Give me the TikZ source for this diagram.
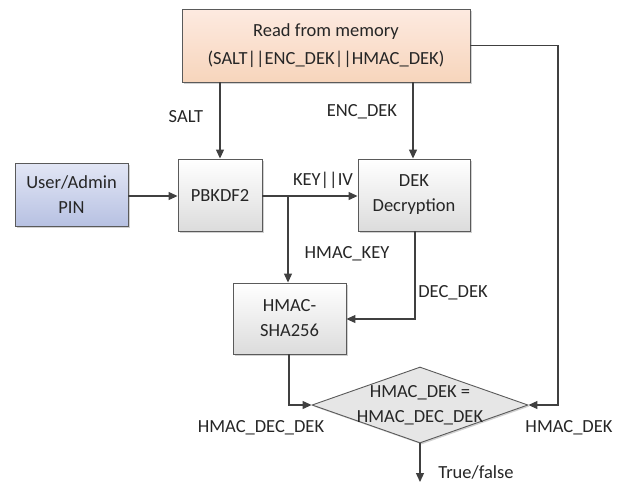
\documentclass[tikz,border=0pt]{standalone}
\usepackage{fontspec}
\setmainfont{Carlito}
\usetikzlibrary{shapes.geometric,arrows.meta,shadows}
\definecolor{linec}{HTML}{404040}
\definecolor{boxline}{HTML}{5A5A5A}
\definecolor{peachT}{HTML}{FDEAE0}
\definecolor{peachB}{HTML}{F7D5BC}
\definecolor{blueT}{HTML}{E2E6F5}
\definecolor{blueB}{HTML}{B7C1E2}
\definecolor{grayB}{HTML}{DCDCDC}
\definecolor{diaF}{HTML}{E6E6E6}
\begin{document}
\begin{tikzpicture}[x=1pt,y=-1pt,
  font=\fontsize{18.5}{25}\selectfont,
  every node/.style={inner sep=0pt, text=black!85},
  shad/.style={drop shadow={shadow xshift=1.5pt,shadow yshift=-1.5pt,fill=black!30,opacity=0.6}},
  boxbase/.style={draw=boxline, line width=0.9pt, align=center, shad},
  peachbox/.style={boxbase, top color=peachT, bottom color=peachB},
  bluebox/.style={boxbase, top color=blueT, bottom color=blueB},
  graybox/.style={boxbase, top color=white, bottom color=grayB},
  dia/.style={shape=diamond, draw=boxline, line width=0.9pt, fill=diaF, shad},
  conn/.style={draw=linec, line width=1.2pt},
  arr/.style={conn, -{Triangle[length=9pt,width=8pt]}},
  lbl/.style={align=center}
]
\useasboundingbox (0,0) rectangle (626,483);

\node[peachbox, minimum width=288pt, minimum height=73pt] (mem) at (326,45.5) {Read from memory\\[3pt](SALT||ENC\_DEK||HMAC\_DEK)};
\node[bluebox, minimum width=113pt, minimum height=63pt] (user) at (71.5,194.5) {User/Admin\\PIN};
\node[graybox, minimum width=84pt, minimum height=72pt] (pbk) at (220,195) {PBKDF2};
\node[graybox, minimum width=112pt, minimum height=72pt] (dek) at (414,195) {DEK\\Decryption};
\node[graybox, minimum width=113pt, minimum height=71pt] (hmac) at (289.5,318.5) {HMAC-\\SHA256};
\node[dia, minimum width=216pt, minimum height=76pt] (cmp) at (420,405) {};
\node[lbl] (cmpt) at (420,405) {HMAC\_DEK =\\HMAC\_DEC\_DEK};

\coordinate (br) at (288,196);
\coordinate (d1) at (415,319);
\coordinate (h1) at (289,405);
\coordinate (m1) at (558,45.5);
\coordinate (m2) at (558,405);
\coordinate (out) at (420,482);

\draw[arr] (mem.south -| pbk.north) -- (pbk.north);
\draw[arr] (mem.south -| 413,0) -- (dek.north -| 413,0);
\draw[arr] (user.east |- 0,196) -- (pbk.west |- 0,196);
\draw[arr] (pbk.east |- br) -- (dek.west |- br);
\draw[arr] (br) -- (br |- hmac.north);
\draw[arr] (dek.south -| d1) -- (d1) -- (hmac.east |- d1);
\draw[arr] (hmac.south -| h1) -- (h1) -- (cmp.west);
\draw[arr] (mem.east) -- (m1) -- (m2) -- (cmp.east);
\draw[arr] (cmp.south) -- (out);

\node[lbl] (lsalt) at (186,117) {SALT};
\node[lbl] (lenc) at (362,112) {ENC\_DEK};
\node[lbl] (lkey) at (323,180) {KEY||IV};
\node[lbl] (lhk) at (347,254) {HMAC\_KEY};
\node[lbl] (ldec) at (453,293) {DEC\_DEK};
\node[lbl] (lhdd) at (261,428) {HMAC\_DEC\_DEK};
\node[lbl] (lhd) at (569,428) {HMAC\_DEK};
\node[lbl] (ltf) at (476,472) {True/false};
\end{tikzpicture}
\end{document}
